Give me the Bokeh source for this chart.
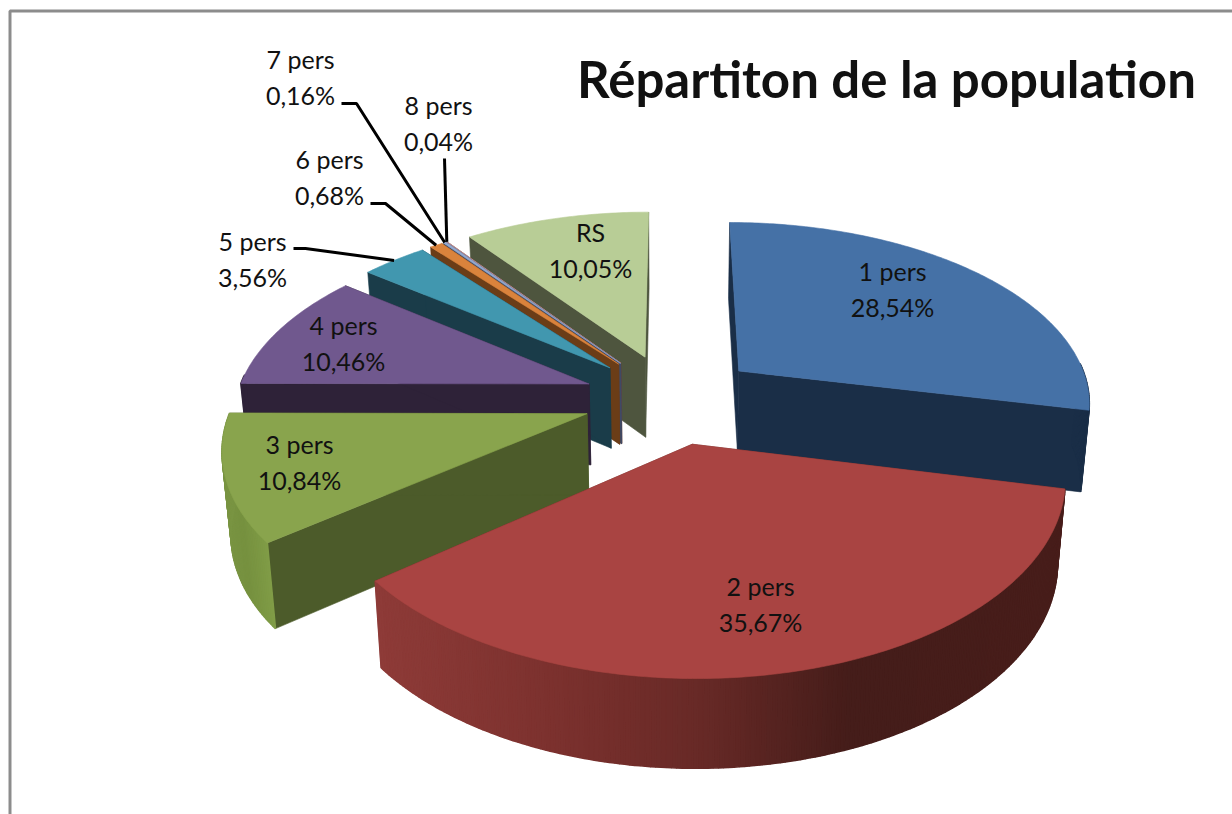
import numpy as np
from bokeh.plotting import figure
from bokeh.models import ColumnDataSource, Range1d
from bokeh.core.properties import value
from bokeh.embed import file_html
from bokeh.resources import INLINE

# ---- data ----
categories = ["1 pers", "2 pers", "3 pers", "4 pers", "5 pers", "6 pers", "7 pers", "8 pers", "RS"]
shares = [28.54, 35.67, 10.84, 10.46, 3.56, 0.68, 0.16, 0.04, 10.05]
share_labels = ["28,54%", "35,67%", "10,84%", "10,46%", "3,56%", "0,68%", "0,16%", "0,04%", "10,05%"]
title = "Répartiton de la population"

# ---- styles ----
top_colors = ["#4571A6", "#A94442", "#89A44D", "#70588E", "#4197AF", "#DA833C", "#93A9CF", "#D19392", "#B8CD96"]
side_colors = ["#1A2E47", "#6A2A27", "#4C5B2A", "#2E2238", "#1A3C49", "#6B3D17", "#3F4A66", "#5E4242", "#4E553E"]
rim_colors = ["#1A2E47", "#6A2A27", "#7C9745", "#2E2238", "#1A3C49", "#6B3D17", "#3F4A66", "#5E4242", "#4E553E"]
draw_order = [8, 7, 6, 5, 4, 3, 2, 0, 1]

# ---- 3D projection (page pixels) ----
CX, CY, RX, RY, K, EXPLODE = 671.0, 398.0, 353.0, 180.4, 0.16, 0.25


def project(X, Y):
    w = 1 + K * Y
    return CX + RX * X / w, CY - RY * Y / w


def lower(x, y):
    return CX + (np.asarray(x) - CX) * 0.98, np.asarray(y) + 80 + 0.03 * (np.asarray(y) - 355)


def lerp_hex(stops, xv):
    xs_ = [s[0] for s in stops]
    rgb = [[int(s[1][i:i + 2], 16) for s in stops] for i in (1, 3, 5)]
    return "#%02x%02x%02x" % tuple(int(np.interp(xv, xs_, c)) for c in rgb)


red_rim = [(380, "#8E3B38"), (560, "#7B312E"), (700, "#682A27"), (850, "#451D1A"), (1060, "#481E1B")]
green_rim = [(220, "#7A9543"), (240, "#76913F"), (275, "#84A04A")]

fracs = np.array(shares) / sum(shares)
starts = np.concatenate([[0], np.cumsum(fracs)[:-1]]) * 2 * np.pi
ends = np.cumsum(fracs) * 2 * np.pi

p = figure(width=1232, height=814, output_backend="svg", toolbar_location=None,
           x_range=Range1d(0, 1232), y_range=Range1d(814, 0),
           min_border=0, outline_line_color=None, background_fill_color="white")
p.axis.visible = False
p.grid.visible = False

xs, ys, fills, widths = [], [], [], []


def add(px, py, color, lw=0.6):
    xs.append(list(map(float, px)))
    ys.append(list(map(float, py)))
    fills.append(color)
    widths.append(lw)


for i in draw_order:
    a0, a1 = starts[i], ends[i]
    mid = (a0 + a1) / 2
    X0, Y0 = EXPLODE * np.sin(mid), EXPLODE * np.cos(mid)
    n = max(3, int((a1 - a0) / 0.012))
    th = np.linspace(a0, a1, n)
    rx, ry = project(X0 + np.sin(th), Y0 + np.cos(th))
    ax, ay = project(X0, Y0)
    lx, ly = lower(rx, ry)
    lax, lay = lower(ax, ay)
    # radial faces
    add([ax, rx[0], lx[0], lax], [ay, ry[0], ly[0], lay], side_colors[i])
    add([ax, rx[-1], lx[-1], lax], [ay, ry[-1], ly[-1], lay], side_colors[i])
    # rim facets, only those turned towards the viewer
    for j in range(n - 1):
        if np.cos((th[j] + th[j + 1]) / 2) > 0.05:
            continue
        mx = (rx[j] + rx[j + 1]) / 2
        if i == 1:
            c = lerp_hex(red_rim, mx)
        elif i == 2:
            c = lerp_hex(green_rim, mx)
        else:
            c = rim_colors[i]
        add([rx[j], rx[j + 1], lx[j + 1], lx[j]], [ry[j], ry[j + 1], ly[j + 1], ly[j]], c, 1.6)
    # top face
    add(np.r_[ax, rx], np.r_[ay, ry], top_colors[i])

src = ColumnDataSource(dict(xs=xs, ys=ys, fill=fills, lw=widths))
p.patches("xs", "ys", source=src, fill_color="fill", line_color="fill", line_width="lw")

# chart frame (top and left only, the rest is cropped)
p.line([9.5, 9.5, 1232], [814, 10.5, 10.5], line_color="#8C8C8C", line_width=3)


# ---- leader lines: label end -> slice rim ----
def rim_mid(i):
    mid = (starts[i] + ends[i]) / 2
    X0, Y0 = EXPLODE * np.sin(mid), EXPLODE * np.cos(mid)
    return project(X0 + np.sin(mid), Y0 + np.cos(mid))


leaders = {4: (293, 248, 305), 5: (370, 203, 385), 6: (341, 103, 356), 7: (444, 158, 444)}
for i, (lx0, ly0, lx1) in leaders.items():
    ex, ey = rim_mid(i)
    p.line([lx0, lx1, ex], [ly0, ly0, ey], line_color="black", line_width=3)

# ---- labels ----
label_pos = [(892, 270), (760, 585), (299, 443), (343, 324), (252, 240), (329, 158), (300, 58), (438, 104), (590, 231)]
FONT = value("Lato")
p.text([q[0] for q in label_pos], [q[1] for q in label_pos], text=categories, text_font=FONT,
       text_font_size="25px", text_color="#111111", text_align="center", text_baseline="middle")
p.text([q[0] for q in label_pos], [q[1] + 36 for q in label_pos], text=share_labels, text_font=FONT,
       text_font_size="25px", text_color="#111111", text_align="center", text_baseline="middle")
p.text([886], [78], text=[title], text_font=FONT, text_font_size="51px", text_font_style="bold",
       text_color="#111111", text_align="center", text_baseline="middle")

open("out.html", "w").write(file_html(p, INLINE))
